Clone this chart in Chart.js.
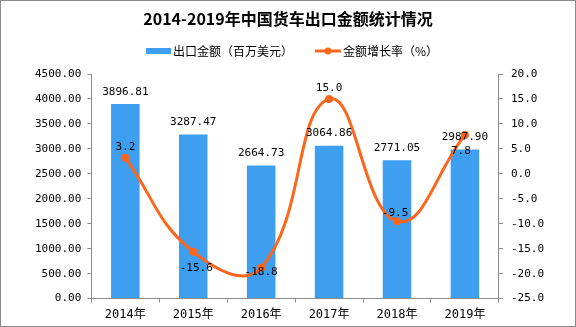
<!DOCTYPE html>
<html>
<head>
<meta charset="utf-8">
<script src="https://cdn.jsdelivr.net/npm/chart.js@4"></script>
<style>
  html, body { margin: 0; padding: 0; background: #fff; }
  #wrap { width: 576px; height: 327px; position: relative; }
</style>
</head>
<body>
<div id="wrap"><canvas id="chart" width="576" height="327"></canvas></div>
<script>
'use strict';

var years = ['2014年', '2015年', '2016年', '2017年', '2018年', '2019年'];
var exportValue = [3896.81, 3287.47, 2664.73, 3064.86, 2771.05, 2987.90];
var growthRate = [3.2, -15.6, -18.8, 15.0, -9.5, 7.8];
var titleText = '2014-2019年中国货车出口金额统计情况';
var barLegend = '出口金额（百万美元）';
var lineLegend = '金额增长率（%）';

var BAR_COLOR = '#3e9ef0';
var LINE_COLOR = '#fc651c';
var AXIS_COLOR = '#8c8c8c';
var MONO = '"DejaVu Sans Mono", "Noto Sans CJK SC", monospace';

// NOTE: label offsets copy where the original chart placed each growth label.
var growthLabelOffset = [[0, -11], [3, 16], [0, 4], [0, -11], [-2, -8], [-4, 16]];

var decorPlugin = {
  id: 'decor',
  afterDraw: function(chart) {
    var ctx = chart.ctx;
    ctx.save();

    // title
    ctx.fillStyle = '#000';
    ctx.font = 'bold 16px "Noto Sans CJK SC", sans-serif';
    ctx.textAlign = 'center';
    ctx.textBaseline = 'middle';
    ctx.fillText(titleText, 288, 19);

    // legend
    ctx.font = '12px "Noto Sans CJK SC", sans-serif';
    ctx.textAlign = 'left';
    ctx.fillStyle = BAR_COLOR;
    ctx.fillRect(146, 48, 25, 6);
    ctx.fillStyle = '#000';
    ctx.fillText(barLegend, 173, 51);

    ctx.strokeStyle = LINE_COLOR;
    ctx.lineWidth = 3;
    ctx.beginPath();
    ctx.moveTo(315, 51);
    ctx.lineTo(341, 51);
    ctx.stroke();
    ctx.fillStyle = LINE_COLOR;
    ctx.beginPath();
    ctx.arc(328, 51, 3.5, 0, Math.PI * 2);
    ctx.fill();
    ctx.fillStyle = '#000';
    ctx.fillText(lineLegend, 343, 51);

    // value labels
    ctx.font = '11px ' + MONO;
    ctx.textAlign = 'center';
    ctx.fillStyle = '#000';
    chart.getDatasetMeta(0).data.forEach(function(pt, i) {
      var off = growthLabelOffset[i];
      ctx.fillText(growthRate[i].toFixed(1), pt.x + off[0], pt.y + off[1]);
    });
    chart.getDatasetMeta(1).data.forEach(function(bar, i) {
      ctx.fillText(exportValue[i].toFixed(2), bar.x, bar.y - 12);
    });

    // outer frame
    ctx.strokeStyle = '#8a8a8a';
    ctx.lineWidth = 1;
    ctx.strokeRect(0.5, 0.5, chart.width - 1, chart.height - 1);
    ctx.restore();
  }
};

var ctx = document.getElementById('chart').getContext('2d');

new Chart(ctx, {
  type: 'bar',
  data: {
    labels: years,
    datasets: [{
      type: 'line',
      label: lineLegend,
      data: growthRate,
      yAxisID: 'y1',
      borderColor: LINE_COLOR,
      backgroundColor: LINE_COLOR,
      borderWidth: 3,
      pointRadius: 4,
      pointBackgroundColor: LINE_COLOR,
      pointBorderWidth: 0,
      tension: 0.45,
      order: 0
    }, {
      type: 'bar',
      label: barLegend,
      data: exportValue,
      yAxisID: 'y',
      backgroundColor: BAR_COLOR,
      categoryPercentage: 1,
      barPercentage: 0.42,
      order: 1
    }]
  },
  options: {
    responsive: false,
    animation: false,
    devicePixelRatio: 1,
    layout: {
      padding: { top: 74, left: 29, right: 24, bottom: 0 }
    },
    plugins: {
      legend: { display: false },
      title: { display: false },
      tooltip: { enabled: false }
    },
    scales: {
      x: {
        grid: { drawOnChartArea: false, tickLength: 4, color: AXIS_COLOR, offset: true },
        border: { color: AXIS_COLOR },
        ticks: { color: '#000', font: { family: MONO, size: 12 }, padding: 5, maxRotation: 0 }
      },
      y: {
        position: 'left',
        min: 0,
        max: 4500,
        grid: { drawOnChartArea: false, tickLength: 4, color: AXIS_COLOR },
        border: { color: AXIS_COLOR },
        ticks: {
          stepSize: 500,
          color: '#000',
          font: { family: MONO, size: 11 },
          padding: 6,
          callback: function(v) { return v.toFixed(2); }
        }
      },
      y1: {
        position: 'right',
        min: -25,
        max: 20,
        grid: { drawOnChartArea: false, tickLength: 4, color: AXIS_COLOR },
        border: { color: AXIS_COLOR },
        ticks: {
          stepSize: 5,
          color: '#000',
          font: { family: MONO, size: 11 },
          padding: 8,
          callback: function(v) { return v.toFixed(1); }
        }
      }
    }
  },
  plugins: [decorPlugin]
});
</script>
</body>
</html>
